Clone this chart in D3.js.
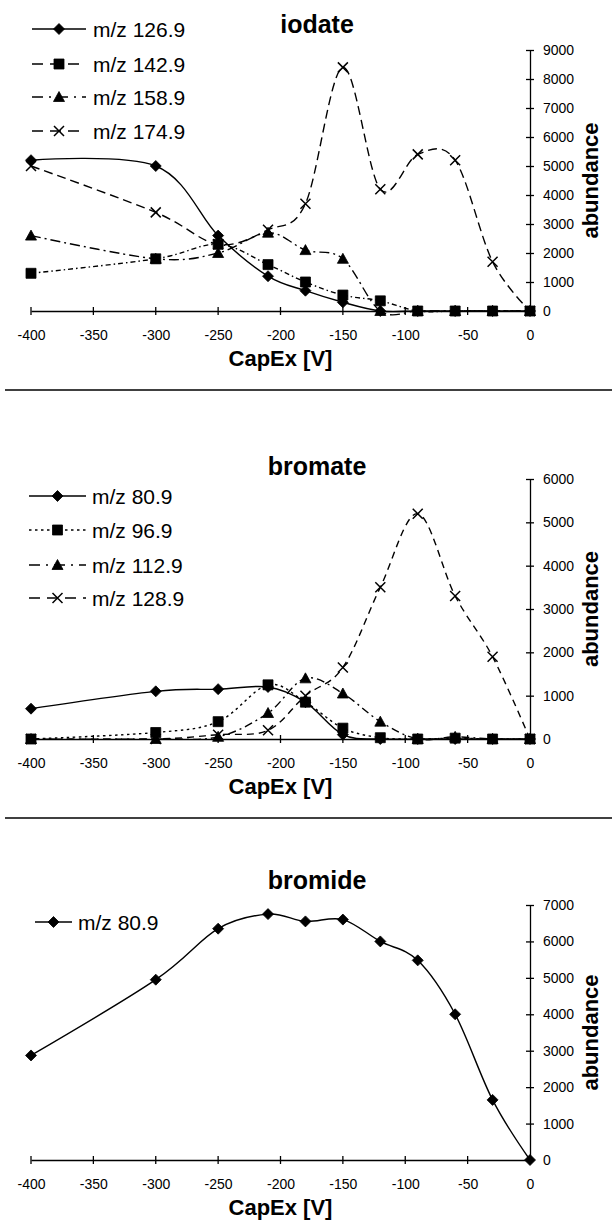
<!DOCTYPE html>
<meta charset="utf-8">
<style>
  body { margin: 0; background: white; }
  svg { display: block; font-family: "Liberation Sans", Arial, sans-serif; }
  .axis path, .axis line { stroke: black; stroke-width: 1.3px; }
  .axis text { font-size: 14px; fill: black; }
</style>
<svg width="613" height="1222"></svg>
<script src="https://d3js.org/d3.v7.min.js"></script>
<script>

// CapEx voltages (V) shared by all three panels
var capex = [-400, -300, -250, -210, -180, -150, -120, -90, -60, -30, 0];
var xTicks = [-400, -350, -300, -250, -200, -150, -100, -50, 0];

// iodate
var iodateLabels = ["m/z 126.9", "m/z 142.9", "m/z 158.9", "m/z 174.9"];
var iodate126 = [5200, 5000, 2600, 1200, 700, 300, 0, 0, 0, 0, 0];
var iodate142 = [1300, 1800, 2300, 1600, 1000, 550, 350, 0, 0, 0, 0];
var iodate158 = [2600, 1800, 2000, 2700, 2100, 1800, 0, 0, 0, 0, 0];
var iodate174 = [5000, 3400, 2300, 2800, 3700, 8400, 4200, 5400, 5200, 1700, 0];
var iodateTicks = [0, 1000, 2000, 3000, 4000, 5000, 6000, 7000, 8000, 9000];

// bromate
var bromateLabels = ["m/z 80.9", "m/z 96.9", "m/z 112.9", "m/z 128.9"];
var bromate81 = [700, 1100, 1150, 1200, 850, 100, 0, 0, 0, 0, 0];
var bromate97 = [0, 150, 400, 1250, 850, 250, 30, 0, 20, 0, 0];
var bromate113 = [0, 0, 50, 600, 1400, 1050, 400, 0, 50, 0, 0];
var bromate129 = [0, 0, 100, 200, 1000, 1650, 3500, 5200, 3300, 1900, 0];
var bromateTicks = [0, 1000, 2000, 3000, 4000, 5000, 6000];

// bromide
var bromideLabels = ["m/z 80.9"];
var bromide81 = [2870, 4950, 6350, 6750, 6550, 6600, 6000, 5480, 4000, 1650, 0];
var bromideTicks = [0, 1000, 2000, 3000, 4000, 5000, 6000, 7000];

var svg = d3.select("svg");
var x = d3.scaleLinear().domain([-400, 0]).range([31, 530]);
var fmt = function(d) { return String(d); };

var markers = {
  diamond: "M0,-5.5L5.5,0L0,5.5L-5.5,0Z",
  square: "M-5,-5H5V5H-5Z",
  triangle: "M0,-5.5L5.5,4.5H-5.5Z",
  cross: "M-5,-5L5,5M5,-5L-5,5"
};

function drawMarker(g, type, cx, cy) {
  var p = g.append("path")
      .attr("d", markers[type])
      .attr("transform", "translate(" + cx + "," + cy + ")");
  if (type === "cross") p.attr("fill", "none").attr("stroke", "black").attr("stroke-width", 1.5);
  else p.attr("fill", "black").attr("stroke", "black").attr("stroke-width", 0.8);
}

function drawPanel(p) {
  var g = svg.append("g");
  var y = d3.scaleLinear().domain([0, p.ticks[p.ticks.length - 1]]).range([p.bottom, p.top]);

  // x axis
  g.append("g")
      .attr("class", "axis")
      .attr("transform", "translate(0," + p.bottom + ")")
      .call(d3.axisBottom(x).tickValues(xTicks).tickSize(0).tickPadding(19).tickFormat(fmt));
  g.selectAll(".xt").data(xTicks).enter().append("line")
      .attr("x1", function(d) { return x(d); }).attr("x2", function(d) { return x(d); })
      .attr("y1", p.bottom - 4).attr("y2", p.bottom + 4)
      .attr("stroke", "black").attr("stroke-width", 1.3);

  // y axis on the right
  var ya = g.append("g")
      .attr("class", "axis")
      .attr("transform", "translate(" + x(0) + ",0)")
      .call(d3.axisRight(y).tickValues(p.ticks).tickSizeInner(4).tickSizeOuter(0).tickPadding(9).tickFormat(fmt));
  ya.selectAll(".tick line").attr("x1", -4);

  g.append("text")
      .attr("x", (x(-400) + x(0)) / 2).attr("y", p.bottom + 55)
      .attr("text-anchor", "middle")
      .style("font-size", "22px").style("font-weight", "bold")
      .text("CapEx [V]");

  g.append("text")
      .attr("transform", "translate(598," + (p.top + p.bottom) / 2 + ") rotate(-90)")
      .attr("text-anchor", "middle")
      .style("font-size", "22px").style("font-weight", "bold")
      .text("abundance");

  g.append("text")
      .attr("x", 317).attr("y", p.titleY)
      .attr("text-anchor", "middle")
      .style("font-size", "25px").style("font-weight", "bold")
      .text(p.title);

  var line = d3.line()
      .x(function(d, i) { return x(capex[i]); })
      .y(function(d) { return y(d); })
      .curve(d3.curveCardinal.tension(0));

  p.series.forEach(function(s, k) {
    g.append("path")
        .datum(s.values)
        .attr("d", line)
        .attr("fill", "none")
        .attr("stroke", "black")
        .attr("stroke-width", 1.4)
        .attr("stroke-dasharray", s.dash);
    s.values.forEach(function(v, i) { drawMarker(g, s.marker, x(capex[i]), y(v)); });

    // legend entry
    var ly = p.legendRows[k];
    g.append("line")
        .attr("x1", p.legend[0]).attr("x2", p.legend[1])
        .attr("y1", ly).attr("y2", ly)
        .attr("stroke", "black").attr("stroke-width", 1.4)
        .attr("stroke-dasharray", s.legendDash || s.dash);
    drawMarker(g, s.marker, (p.legend[0] + p.legend[1]) / 2, ly);
    g.append("text")
        .attr("x", p.legend[2]).attr("y", ly + 7.5)
        .style("font-size", "21px")
        .text(p.labels[k]);
  });
}

drawPanel({
  title: "iodate", titleY: 33, top: 50, bottom: 311, ticks: iodateTicks,
  labels: iodateLabels, legend: [32, 86, 93], legendRows: [29, 64, 97, 131],
  series: [
    {values: iodate126, marker: "diamond", dash: null},
    {values: iodate142, marker: "square", dash: "5,3,1.5,3", legendDash: "11,7"},
    {values: iodate158, marker: "triangle", dash: "10,4,2,4", legendDash: "11,6,2,6"},
    {values: iodate174, marker: "cross", dash: "9,5", legendDash: "11,7"}
  ]
});

drawPanel({
  title: "bromate", titleY: 475, top: 479, bottom: 739, ticks: bromateTicks,
  labels: bromateLabels, legend: [29, 86, 92], legendRows: [496, 530, 565, 598],
  series: [
    {values: bromate81, marker: "diamond", dash: null},
    {values: bromate97, marker: "square", dash: "2.5,3.5"},
    {values: bromate113, marker: "triangle", dash: "8,4,2,4", legendDash: "11,6,2,6"},
    {values: bromate129, marker: "cross", dash: "7,5", legendDash: "11,7"}
  ]
});

drawPanel({
  title: "bromide", titleY: 889, top: 905, bottom: 1160, ticks: bromideTicks,
  labels: bromideLabels, legend: [35, 72, 78], legendRows: [922],
  series: [
    {values: bromide81, marker: "diamond", dash: null}
  ]
});

// separators between panels
[390, 818].forEach(function(yy) {
  svg.append("line")
      .attr("x1", 5).attr("x2", 612).attr("y1", yy).attr("y2", yy)
      .attr("stroke", "black").attr("stroke-width", 1.6);
});

</script>
